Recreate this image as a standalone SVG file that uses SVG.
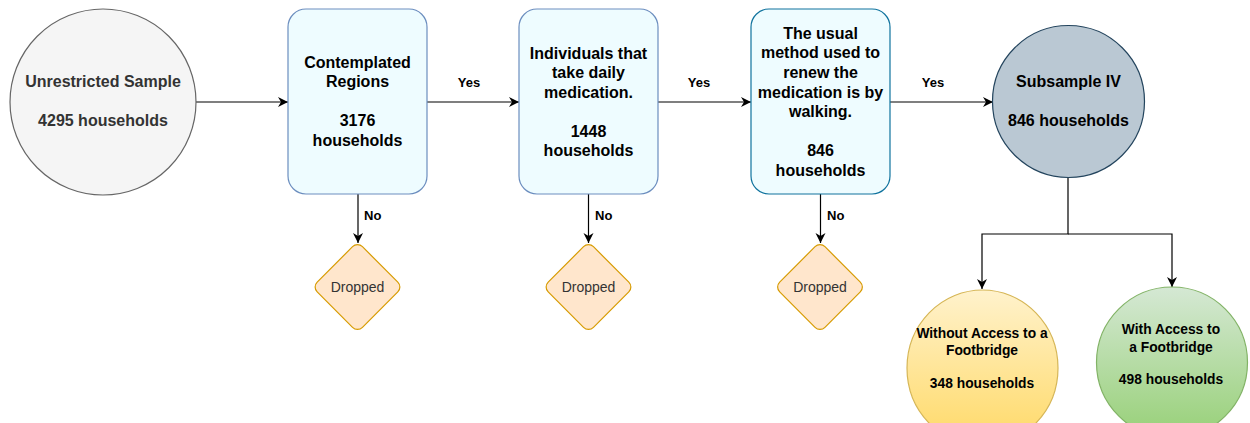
<svg xmlns="http://www.w3.org/2000/svg" width="1250" height="423" viewBox="0 0 1250 423">
  <style>
    text { font-family: "Liberation Sans", Arial, sans-serif; text-anchor: middle; }
    .b { font-weight: bold; font-size: 16px; fill: #000; }
    .g { fill: #333333; }
    .lbl { font-weight: bold; font-size: 13px; fill: #000; }
    .nol { font-weight: bold; font-size: 13px; fill: #000; text-anchor: start; }
    .drop { font-size: 14px; fill: #333333; }
    .sm { font-weight: bold; font-size: 13.8px; fill: #000; }
    .box { fill: #eefcff; stroke: #6c8ebf; stroke-width: 1.2; }
    .dia { fill: #ffe6cc; stroke: #d79b00; stroke-width: 1.2; }
    .edge { fill: none; stroke: #000; stroke-width: 1.2; }
  </style>
  <defs>
    <marker id="arr" markerUnits="userSpaceOnUse" markerWidth="12" markerHeight="12" refX="10" refY="5" orient="auto">
      <path d="M0,0 L10,5 L0,10 L3,5 Z" fill="#000"/>
    </marker>
    <linearGradient id="gy" x1="0" y1="0" x2="0" y2="1">
      <stop offset="0" stop-color="#fff2cc"/>
      <stop offset="1" stop-color="#ffd966"/>
    </linearGradient>
    <linearGradient id="gg" x1="0" y1="0" x2="0" y2="1">
      <stop offset="0" stop-color="#d5e8d4"/>
      <stop offset="1" stop-color="#97d077"/>
    </linearGradient>
  </defs>

  <g id="connectors">
    <line class="edge" x1="196" y1="102" x2="288" y2="102" marker-end="url(#arr)"/>
    <line class="edge" x1="427" y1="102" x2="519" y2="102" marker-end="url(#arr)"/>
    <line class="edge" x1="658" y1="102" x2="751" y2="102" marker-end="url(#arr)"/>
    <line class="edge" x1="890" y1="102" x2="993" y2="102" marker-end="url(#arr)"/>
    <text class="lbl" x="469" y="87">Yes</text>
    <text class="lbl" x="699" y="87">Yes</text>
    <text class="lbl" x="933" y="87">Yes</text>
    <line class="edge" x1="358" y1="194" x2="358" y2="243" marker-end="url(#arr)"/>
    <line class="edge" x1="588.5" y1="194" x2="588.5" y2="243" marker-end="url(#arr)"/>
    <line class="edge" x1="820.5" y1="194" x2="820.5" y2="243" marker-end="url(#arr)"/>
    <text class="nol" x="364" y="220">No</text>
    <text class="nol" x="595" y="220">No</text>
    <text class="nol" x="827" y="220">No</text>
    <path class="edge" d="M1068,178 V234 H982 V289" marker-end="url(#arr)"/>
    <path class="edge" d="M1068,234 H1172 V287" marker-end="url(#arr)"/>
  </g>

  <g id="unrestricted">
    <circle cx="103" cy="102" r="93" fill="#f5f5f5" stroke="#666666" stroke-width="1.2"/>
    <text class="b g" x="103" y="87">Unrestricted Sample</text>
    <text class="b g" x="103" y="126">4295 households</text>
  </g>

  <g id="regions">
    <rect class="box" x="288" y="9" width="139" height="185" rx="18"/>
    <text class="b" x="357.5" y="68">Contemplated</text>
    <text class="b" x="357.5" y="87">Regions</text>
    <text class="b" x="357.5" y="126">3176</text>
    <text class="b" x="357.5" y="145.5">households</text>
  </g>

  <g id="medication">
    <rect class="box" x="519" y="9" width="139" height="185" rx="18"/>
    <text class="b" x="588.5" y="59">Individuals that</text>
    <text class="b" x="588.5" y="78">take daily</text>
    <text class="b" x="588.5" y="98">medication.</text>
    <text class="b" x="588.5" y="136.5">1448</text>
    <text class="b" x="588.5" y="156">households</text>
  </g>

  <g id="walking">
    <rect class="box" x="751" y="9" width="139" height="185" rx="18" style="stroke:#10739e"/>
    <text class="b" x="820.5" y="39">The usual</text>
    <text class="b" x="820.5" y="58">method used to</text>
    <text class="b" x="820.5" y="78">renew the</text>
    <text class="b" x="820.5" y="98">medication is by</text>
    <text class="b" x="820.5" y="117">walking.</text>
    <text class="b" x="820.5" y="156">846</text>
    <text class="b" x="820.5" y="175.5">households</text>
  </g>

  <g id="subsample">
    <circle cx="1068.5" cy="101.5" r="76" fill="#bac8d3" stroke="#23445d" stroke-width="1.2"/>
    <text class="b" x="1068.5" y="87">Subsample IV</text>
    <text class="b" x="1068.5" y="126">846 households</text>
  </g>

  <g id="dropped1">
    <rect class="dia" x="-32" y="-32" width="64" height="64" rx="7" transform="translate(357.5 287) rotate(45)"/>
    <text class="drop" x="357.5" y="292">Dropped</text>
  </g>
  <g id="dropped2">
    <rect class="dia" x="-32" y="-32" width="64" height="64" rx="7" transform="translate(588.5 287) rotate(45)"/>
    <text class="drop" x="588.5" y="292">Dropped</text>
  </g>
  <g id="dropped3">
    <rect class="dia" x="-32" y="-32" width="64" height="64" rx="7" transform="translate(820 287) rotate(45)"/>
    <text class="drop" x="820" y="292">Dropped</text>
  </g>

  <g id="without">
    <ellipse cx="982.5" cy="368" rx="75.5" ry="78" fill="url(#gy)" stroke="#d6b656" stroke-width="1.2"/>
    <text class="sm" x="982" y="338">Without Access to a</text>
    <text class="sm" x="982" y="355">Footbridge</text>
    <text class="sm" x="982" y="388">348 households</text>
  </g>

  <g id="with">
    <circle cx="1172" cy="362.5" r="75.5" fill="url(#gg)" stroke="#82b366" stroke-width="1.2"/>
    <text class="sm" x="1171" y="334">With Access to</text>
    <text class="sm" x="1171" y="351.5">a Footbridge</text>
    <text class="sm" x="1171" y="384">498 households</text>
  </g>
</svg>
